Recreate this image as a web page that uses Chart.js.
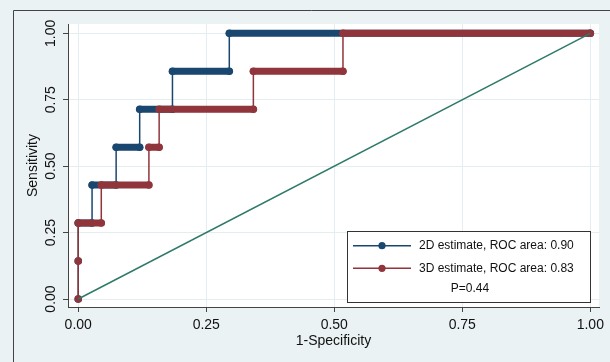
<!DOCTYPE html>
<html>
<head>
<meta charset="utf-8">
<script src="https://cdn.jsdelivr.net/npm/chart.js@4.4.1/dist/chart.umd.min.js"></script>
<style>
  html, body { margin: 0; padding: 0; background: #eaf2f3; }
  #wrap { width: 610px; height: 362px; }
</style>
</head>
<body>
<div id="wrap"><canvas id="rocChart" width="610" height="362"></canvas></div>
<script>
// Tick positions (both axes use the same ones)
const tickValues = [0, 0.25, 0.5, 0.75, 1];

// ROC staircase corners: x = 1-specificity, y = sensitivity
const est2dX = [0, 0, 0, 0.027, 0.027, 0.074, 0.074, 0.12, 0.12, 0.184, 0.184, 0.295, 0.295, 1];
const est2dY = [0, 0.143, 0.286, 0.286, 0.429, 0.429, 0.571, 0.571, 0.714, 0.714, 0.857, 0.857, 1, 1];
const est3dX = [0, 0, 0, 0.045, 0.045, 0.138, 0.138, 0.158, 0.158, 0.342, 0.342, 0.517, 0.517, 1];
const est3dY = [0, 0.143, 0.286, 0.286, 0.429, 0.429, 0.571, 0.571, 0.714, 0.714, 0.857, 0.857, 1, 1];

// chance line
const refX = [0, 1];
const refY = [0, 1];

const legendLabels = ['2D estimate, ROC area: 0.90', '3D estimate, ROC area: 0.83'];
const pValueLabel = 'P=0.44';

const blue = '#1a476f';
const red = '#90353b';
const teal = '#2e7a69';
const fontFamily = '"Liberation Sans", Arial, sans-serif';

const toPoints = (xs, ys) => xs.map((x, i) => ({ x: x, y: ys[i] }));

// horizontal runs look like a thick band of markers, verticals are thin
const stepSegment = {
    borderWidth: c => (c.p0.parsed.y === c.p1.parsed.y ? 7 : 1.5)
};

const backdrop = {
    id: 'backdrop',
    beforeDraw(chart) {
        const { ctx, chartArea: a, width, height } = chart;
        ctx.save();
        ctx.fillStyle = '#eaf2f3';
        ctx.fillRect(0, 0, width, height);
        ctx.fillStyle = '#ffffff';
        ctx.fillRect(a.left, a.top, a.right - a.left, a.bottom - a.top);
        ctx.strokeStyle = '#444';
        ctx.lineWidth = 1;
        ctx.beginPath();
        ctx.moveTo(13.5, height);
        ctx.lineTo(13.5, 10.5);
        ctx.lineTo(width, 10.5);
        ctx.stroke();
        ctx.restore();
    }
};

const boxLegend = {
    id: 'boxLegend',
    afterDraw(chart) {
        const { ctx } = chart;
        const x0 = 347.5, y0 = 231.5, w = 243, h = 71;
        const colors = [blue, red];
        ctx.save();
        ctx.fillStyle = '#fff';
        ctx.fillRect(x0, y0, w, h);
        ctx.strokeStyle = '#333';
        ctx.lineWidth = 1;
        ctx.strokeRect(x0, y0, w, h);
        ctx.font = '12px ' + fontFamily;
        ctx.textBaseline = 'middle';
        legendLabels.forEach((label, i) => {
            const y = 245.7 + i * 22.6;
            ctx.strokeStyle = colors[i];
            ctx.lineWidth = 1.5;
            ctx.beginPath();
            ctx.moveTo(353, y);
            ctx.lineTo(411, y);
            ctx.stroke();
            ctx.fillStyle = colors[i];
            ctx.beginPath();
            ctx.arc(382, y, 3.6, 0, Math.PI * 2);
            ctx.fill();
            ctx.fillStyle = '#111';
            ctx.textAlign = 'left';
            ctx.fillText(label, 419, y);
        });
        ctx.textAlign = 'center';
        ctx.fillText(pValueLabel, x0 + w / 2 + 1, 289);
        ctx.restore();
    }
};

const ctx = document.getElementById('rocChart').getContext('2d');
new Chart(ctx, {
    type: 'scatter',
    data: {
        datasets: [
            {
                label: 'Reference',
                data: toPoints(refX, refY),
                showLine: true,
                borderColor: teal,
                borderWidth: 1.5,
                pointRadius: 0
            },
            {
                label: '3D estimate',
                data: toPoints(est3dX, est3dY),
                showLine: true,
                borderColor: red,
                backgroundColor: red,
                pointRadius: 3.8,
                pointBorderWidth: 0,
                borderCapStyle: 'round',
                borderJoinStyle: 'round',
                segment: stepSegment
            },
            {
                label: '2D estimate',
                data: toPoints(est2dX, est2dY),
                showLine: true,
                borderColor: blue,
                backgroundColor: blue,
                pointRadius: 3.8,
                pointBorderWidth: 0,
                borderCapStyle: 'round',
                borderJoinStyle: 'round',
                segment: stepSegment
            }
        ]
    },
    options: {
        responsive: false,
        animation: false,
        layout: { padding: { top: 24, right: 11, left: 0, bottom: 0 } },
        plugins: {
            legend: { display: false },
            tooltip: { enabled: false }
        },
        scales: {
            x: {
                type: 'linear',
                min: -0.02,
                max: 1.017,
                afterBuildTicks: s => { s.ticks = tickValues.map(v => ({ value: v })); },
                afterFit: s => { s.height = 55; },
                grid: { color: '#e4edf0', lineWidth: 1, tickLength: 5, tickColor: '#444' },
                border: { display: true, color: '#444', width: 1 },
                ticks: {
                    color: '#111',
                    font: { family: fontFamily, size: 14 },
                    padding: 5,
                    maxRotation: 0,
                    callback: v => v.toFixed(2)
                },
                title: {
                    display: true,
                    text: '1-Specificity',
                    color: '#111',
                    font: { family: fontFamily, size: 14 },
                    padding: { top: 0, bottom: 12.6 }
                }
            },
            y: {
                type: 'linear',
                min: -0.03,
                max: 1.035,
                afterBuildTicks: s => { s.ticks = tickValues.map(v => ({ value: v })); },
                afterFit: s => { s.width = 68; },
                grid: { color: '#e4edf0', lineWidth: 1, tickLength: 5, tickColor: '#444' },
                border: { display: true, color: '#444', width: 1 },
                ticks: {
                    color: '#111',
                    font: { family: fontFamily, size: 14 },
                    padding: -1.5,
                    minRotation: 90,
                    maxRotation: 90,
                    crossAlign: 'center',
                    callback: v => v.toFixed(2)
                },
                title: {
                    display: true,
                    text: 'Sensitivity',
                    color: '#111',
                    font: { family: fontFamily, size: 14 },
                    padding: { top: 24.6, bottom: 0 }
                }
            }
        }
    },
    plugins: [backdrop, boxLegend]
});
</script>
</body>
</html>
